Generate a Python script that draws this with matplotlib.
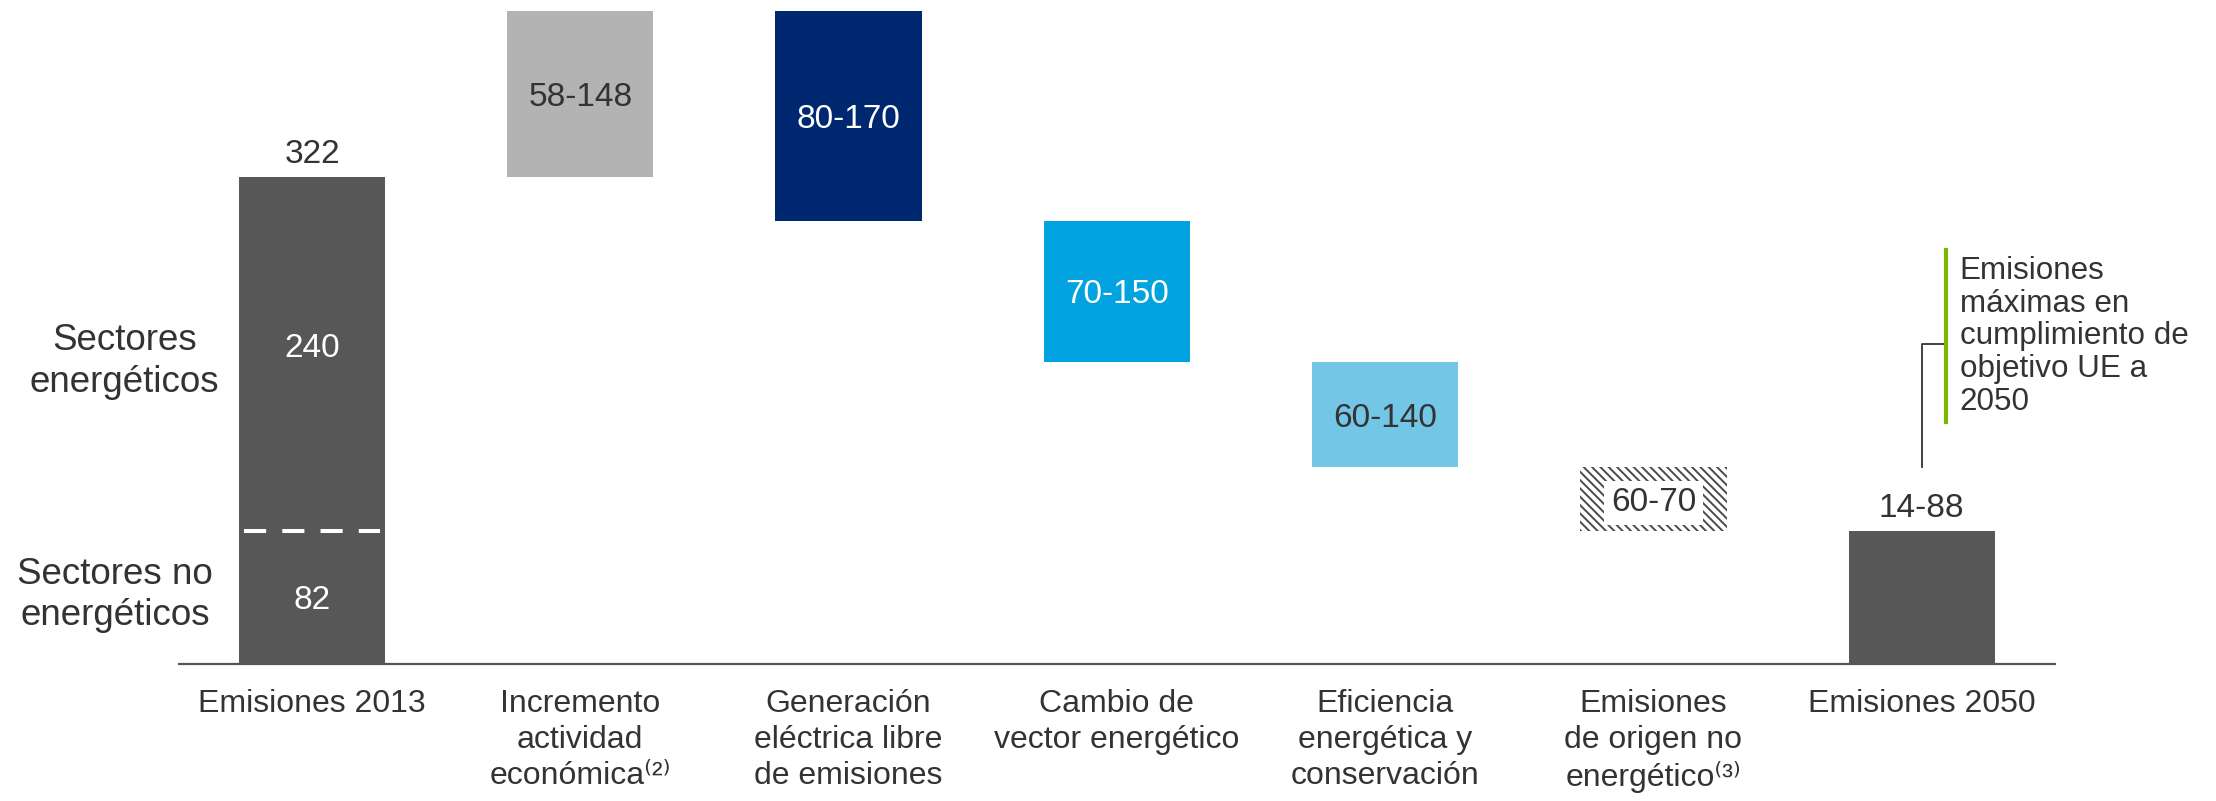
import numpy as np
import matplotlib
matplotlib.use("Agg")
import matplotlib.pyplot as plt

plt.rcParams['font.family'] = ['Liberation Sans', 'DejaVu Sans']
plt.rcParams['hatch.linewidth'] = 1.4

# Chart data
categories = ["Emisiones 2013",
              "Incremento\nactividad\neconómica⁽²⁾",
              "Generación\neléctrica libre\nde emisiones",
              "Cambio de\nvector energético",
              "Eficiencia\nenergética y\nconservación",
              "Emisiones\nde origen no\nenergético⁽³⁾",
              "Emisiones 2050"]
start_total = 322
changes = [110, -139, -93, -70, -42]
end_total = 88
split_level = 88
split_labels = ["240", "82"]
range_labels = ["322", "58-148", "80-170", "70-150", "60-140", "60-70", "14-88"]

txt = '#333333'
dark = '#575757'
colors = [dark, '#b3b3b3', '#002870', '#00a3e0', '#73c6e6', 'white', dark]
label_colors = [txt, txt, 'white', 'white', txt, txt, txt]

fig = plt.figure(figsize=(22.16, 8.01), dpi=100)
ax = fig.add_axes([0, 0, 1, 1])
ax.set_xlim(-1.163, 7.097)
ax.set_ylim(-90.6, 439.2)
ax.axis('off')

w = 0.545
x = np.arange(len(categories))

# bottoms / heights for the waterfall
bottoms = [0]
heights = [start_total]
level = start_total
for d in changes:
    new = level + d
    bottoms.append(min(level, new))
    heights.append(abs(d))
    level = new
bottoms.append(0)
heights.append(end_total)

for i in range(len(categories)):
    if i == 5:
        ax.bar(x[i], heights[i], w, bottoms[i], color='white', edgecolor='#4a4a4a',
               hatch='\\\\\\\\', linewidth=0)
    else:
        ax.bar(x[i], heights[i], w, bottoms[i], color=colors[i], linewidth=0)

# baseline
ax.hlines(0, -0.5, len(categories) - 0.5, colors='#555555', lw=1.6)

# split line in first bar
ax.hlines(split_level, x[0] - w / 2 + 0.02, x[0] + w / 2 - 0.02, colors='white',
          lw=2.9, linestyles=(0, (5.5, 4)))

# labels inside bars
ax.text(x[0], (split_level + start_total) / 2 + 6, split_labels[0], ha='center',
        va='center_baseline', fontsize=24, color='white')
ax.text(x[0], split_level / 2, split_labels[1], ha='center',
        va='center_baseline', fontsize=24, color='white')

for i in range(1, 6):
    kw = {}
    if i == 5:
        kw['bbox'] = dict(boxstyle='square,pad=0.2', fc='white', ec='none')
    ax.text(x[i], bottoms[i] + heights[i] / 2, range_labels[i], ha='center',
            va='center_baseline', fontsize=24, color=label_colors[i], **kw)

# totals above bars
for i in (0, 6):
    ax.annotate(range_labels[i], (x[i], bottoms[i] + heights[i]), xytext=(0, 10),
                textcoords='offset points', ha='center', va='baseline',
                fontsize=24, color=txt)

# category labels
for i, c in enumerate(categories):
    ax.annotate(c, (x[i], 0), xytext=(0, -18), textcoords='offset points',
                ha='center', va='top', fontsize=23, color=txt, linespacing=1.25)

# left side labels
ax.text(-0.70, 200, "Sectores\nenergéticos", ha='center', va='center',
        fontsize=26.5, color=txt, linespacing=1.25)
ax.text(-0.734, 45.6, "Sectores no\nenergéticos", ha='center', va='center',
        fontsize=26.5, color=txt, linespacing=1.25)

# EU target callout
ax.plot([6.0, 6.0, 6.09], [130, 212, 212], color='#333333', lw=1.3)
ax.plot([6.09, 6.09], [160, 274], color='#7ab800', lw=3)
ax.text(6.142, 270, "Emisiones\nmáximas en\ncumplimiento de\nobjetivo UE a\n2050",
        ha='left', va='top', fontsize=22.6, color=txt, linespacing=1.12)

fig.savefig('out.png', dpi=100)
